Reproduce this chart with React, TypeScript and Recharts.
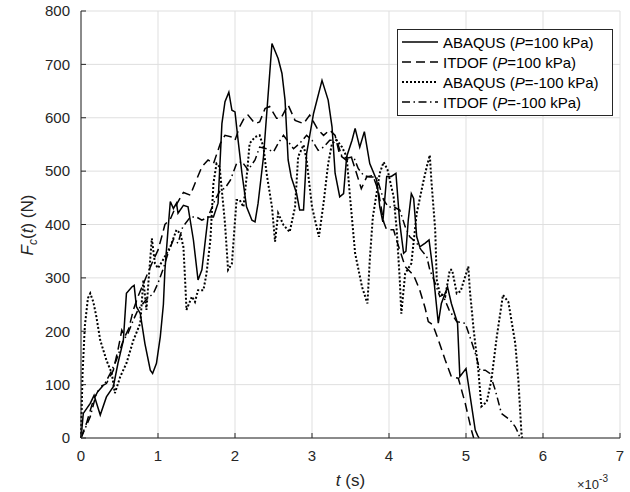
import { LineChart, Line, XAxis, YAxis, CartesianGrid, Legend } from 'recharts';

// t in units of 1e-3 s, F in N
const abaqusPos: [number, number][] = [
  [0, 0], [0.03, 46], [0.12, 65], [0.17, 80], [0.25, 43], [0.33, 77], [0.42, 96], [0.48, 140],
  [0.55, 183], [0.59, 271], [0.66, 283], [0.69, 286], [0.72, 246], [0.77, 233], [0.83, 177],
  [0.9, 127], [0.93, 121], [0.98, 140], [1.03, 190], [1.07, 250], [1.09, 315], [1.13, 390],
  [1.16, 443], [1.2, 430], [1.24, 440], [1.26, 421], [1.33, 436], [1.39, 433], [1.46, 371],
  [1.52, 296], [1.57, 315], [1.65, 414], [1.72, 414], [1.78, 440], [1.83, 589], [1.87, 630],
  [1.92, 648], [1.96, 614], [2.0, 611], [2.04, 558], [2.09, 496], [2.15, 433], [2.22, 408],
  [2.26, 405], [2.3, 440], [2.37, 527], [2.48, 739], [2.56, 711], [2.61, 683], [2.65, 633],
  [2.69, 521], [2.73, 489], [2.8, 458], [2.84, 427], [2.89, 427], [2.93, 533], [3.02, 608],
  [3.13, 670], [3.21, 633], [3.26, 583], [3.3, 496], [3.36, 452], [3.41, 458], [3.45, 527],
  [3.52, 558], [3.56, 580], [3.62, 545], [3.68, 574], [3.75, 514], [3.84, 483], [3.88, 433],
  [3.92, 405], [3.97, 490], [4.03, 490], [4.09, 496], [4.14, 402], [4.19, 346], [4.22, 350],
  [4.25, 408], [4.29, 458], [4.32, 449], [4.36, 377], [4.4, 358], [4.47, 365], [4.52, 371],
  [4.57, 315], [4.64, 215], [4.68, 252], [4.76, 283], [4.81, 252], [4.89, 215], [4.92, 115],
  [5.0, 130], [5.12, 15], [5.15, 5], [5.17, 0],
];

const itdofPos: [number, number][] = [
  [0, 0], [0.07, 27], [0.16, 71], [0.25, 96], [0.33, 102], [0.42, 127], [0.48, 165], [0.53, 202],
  [0.57, 190], [0.62, 205], [0.68, 240], [0.74, 265], [0.83, 296], [0.92, 327], [1.0, 352],
  [1.05, 378], [1.09, 400], [1.16, 410], [1.25, 440], [1.33, 460], [1.42, 455], [1.48, 477],
  [1.57, 508], [1.65, 521], [1.72, 514], [1.81, 552], [1.87, 567], [1.96, 564], [2.0, 558],
  [2.06, 583], [2.13, 602], [2.17, 605], [2.26, 589], [2.32, 592], [2.39, 617], [2.45, 621],
  [2.54, 599], [2.6, 600], [2.69, 624], [2.78, 595], [2.89, 589], [2.97, 605], [3.08, 577],
  [3.15, 567], [3.23, 577], [3.3, 567], [3.36, 530], [3.45, 520], [3.51, 527], [3.58, 495],
  [3.64, 467], [3.71, 489], [3.79, 492], [3.86, 464], [3.93, 405], [3.97, 390], [4.06, 390],
  [4.1, 370], [4.21, 321], [4.32, 305], [4.4, 277], [4.47, 243], [4.51, 218], [4.57, 212],
  [4.65, 180], [4.73, 146], [4.81, 115], [4.9, 112], [4.99, 65], [5.07, 15], [5.1, 0],
];

const abaqusNeg: [number, number][] = [
  [0, 0], [0.02, 120], [0.05, 210], [0.09, 262], [0.12, 271], [0.16, 255], [0.2, 227],
  [0.25, 183], [0.33, 146], [0.4, 121], [0.44, 84], [0.51, 115], [0.59, 140], [0.68, 183],
  [0.77, 215], [0.81, 296], [0.85, 240], [0.88, 300], [0.92, 374], [0.96, 327], [1.0, 318],
  [1.07, 335], [1.16, 358], [1.24, 390], [1.29, 383], [1.33, 358], [1.35, 302], [1.37, 240],
  [1.44, 265], [1.48, 255], [1.52, 277], [1.59, 277], [1.63, 308], [1.68, 371], [1.72, 477],
  [1.76, 514], [1.8, 508], [1.87, 402], [1.91, 315], [1.96, 327], [2.02, 446], [2.06, 446],
  [2.11, 433], [2.16, 502], [2.19, 552], [2.26, 564], [2.32, 567], [2.37, 545], [2.41, 496],
  [2.48, 433], [2.52, 368], [2.56, 421], [2.63, 399], [2.71, 386], [2.78, 433], [2.82, 527],
  [2.89, 549], [2.93, 521], [3.0, 433], [3.09, 377], [3.15, 440], [3.21, 514], [3.26, 552],
  [3.32, 558], [3.39, 545], [3.45, 527], [3.49, 458], [3.56, 346], [3.65, 283], [3.72, 252],
  [3.75, 333], [3.79, 414], [3.88, 496], [3.93, 517], [3.98, 503], [4.06, 452], [4.1, 390],
  [4.14, 296], [4.16, 233], [4.21, 308], [4.29, 327], [4.36, 421], [4.45, 483], [4.49, 508],
  [4.53, 530], [4.55, 483], [4.6, 390], [4.62, 296], [4.66, 271], [4.73, 265], [4.79, 315],
  [4.82, 315], [4.88, 271], [4.93, 275], [5.03, 321], [5.05, 277], [5.1, 202], [5.16, 127],
  [5.2, 59], [5.27, 68], [5.33, 109], [5.4, 190], [5.48, 268], [5.55, 255], [5.64, 177],
  [5.68, 109], [5.72, 9], [5.73, 0],
];

const itdofNeg: [number, number][] = [
  [0, 0], [0.12, 40], [0.2, 84], [0.31, 102], [0.38, 121], [0.46, 146], [0.55, 183], [0.61, 196],
  [0.68, 221], [0.74, 240], [0.84, 258], [0.94, 271], [1.0, 290], [1.07, 318], [1.13, 346],
  [1.2, 372], [1.26, 365], [1.32, 395], [1.42, 414], [1.5, 414], [1.57, 408], [1.65, 414],
  [1.74, 446], [1.81, 464], [1.87, 468], [1.94, 483], [2.02, 514], [2.09, 518], [2.17, 502],
  [2.26, 521], [2.32, 545], [2.41, 542], [2.5, 536], [2.56, 552], [2.63, 567], [2.76, 542],
  [2.84, 552], [2.93, 567], [3.0, 558], [3.08, 539], [3.15, 545], [3.23, 558], [3.32, 558],
  [3.39, 527], [3.45, 524], [3.54, 527], [3.6, 505], [3.67, 492], [3.75, 489], [3.84, 489],
  [3.93, 446], [3.99, 433], [4.06, 433], [4.14, 427], [4.21, 396], [4.27, 377], [4.36, 365],
  [4.42, 352], [4.49, 340], [4.53, 315], [4.6, 290], [4.66, 265], [4.7, 268], [4.78, 240],
  [4.88, 218], [4.99, 215], [5.05, 190], [5.12, 159], [5.18, 127], [5.25, 127], [5.31, 121],
  [5.38, 90], [5.46, 46], [5.57, 34], [5.64, 21], [5.68, 9], [5.7, 0],
];

const xTicks = [0, 1, 2, 3, 4, 5, 6, 7];
const yTicks = [0, 100, 200, 300, 400, 500, 600, 700, 800];

const seriesNames = ['ABAQUS', 'ITDOF', 'ABAQUS', 'ITDOF'];
const seriesP = ['100', '100', '-100', '-100'];
const dashes = ['', '9 5', '2 2', '8 3.5 1.5 3.5'];
const widths = [1.5, 1.5, 2, 1.5];

const toRows = (pts: [number, number][]) => pts.map(([t, f]) => ({ t, f }));
const allSeries = [abaqusPos, itdofPos, abaqusNeg, itdofNeg].map(toRows);

const FONT = '"Liberation Sans", Arial, sans-serif';
const AX = '#262626';

function XLabel(props: any) {
  const vb = props.viewBox;
  const cx = vb.x + vb.width / 2;
  return (
    <g fontFamily={FONT} fill={AX}>
      <text x={cx} y={vb.y + 48} textAnchor="middle" fontSize={17}>
        <tspan fontStyle="italic">t</tspan> (s)
      </text>
      <text x={vb.x + vb.width - 43} y={vb.y + 51} fontSize={13}>
        ×10<tspan dy={-7} fontSize={10}>-3</tspan>
      </text>
    </g>
  );
}

function YLabel() {
  const x = 33;
  const y = 225;
  return (
    <text x={x} y={y} transform={`rotate(-90, ${x}, ${y})`} textAnchor="middle" fontFamily={FONT} fontSize={17} fill={AX}>
      <tspan fontStyle="italic">F</tspan>
      <tspan dy={4} fontSize={12} fontStyle="italic">c</tspan>
      <tspan dy={-4}>(</tspan>
      <tspan fontStyle="italic">t</tspan>
      <tspan>) (N)</tspan>
    </text>
  );
}

function LegendBox() {
  return (
    <div style={{ border: `1px solid ${AX}`, background: '#fff', padding: '2px 0 3px 4px', width: 210, fontFamily: FONT, fontSize: 15, color: '#000' }}>
      {seriesNames.map((name, i) => (
        <div key={i} style={{ height: 20, display: 'flex', alignItems: 'center' }}>
          <svg width={36} height={6} style={{ marginRight: 5 }}>
            <line x1={0} y1={3} x2={36} y2={3} stroke="#000" strokeWidth={widths[i]} strokeDasharray={dashes[i] || undefined} />
          </svg>
          <span>
            {name} (<i>P</i>={seriesP[i]} kPa)
          </span>
        </div>
      ))}
    </div>
  );
}

export default function App() {
  return (
    <div style={{ position: 'absolute', left: 0, top: 0, width: 630, height: 492, background: '#fff' }}>
      <LineChart width={630} height={492} margin={{ top: 11, right: 10, bottom: 0, left: 0 }}>
        <CartesianGrid stroke="#dfdfdf" />
        <XAxis
          type="number" dataKey="t" domain={[0, 7]} ticks={xTicks} interval={0}
          height={54} stroke={AX} tickSize={-5} tickMargin={17}
          tick={{ fill: AX, fontSize: 15, fontFamily: FONT }}
          label={<XLabel />}
        />
        <XAxis
          xAxisId="top" orientation="top" type="number" dataKey="t" domain={[0, 7]} ticks={xTicks}
          interval={0} height={0} stroke={AX} tickSize={-5} tick={false}
        />
        <YAxis
          type="number" domain={[0, 800]} ticks={yTicks} interval={0} width={81}
          stroke={AX} tickSize={-5} tickMargin={16}
          tick={{ fill: AX, fontSize: 15, fontFamily: FONT }}
          label={<YLabel />}
        />
        <YAxis
          yAxisId="right" orientation="right" type="number" domain={[0, 800]} ticks={yTicks}
          interval={0} width={0} stroke={AX} tickSize={-5} tick={false}
        />
        <Legend
          layout="vertical" align="center" verticalAlign="middle"
          wrapperStyle={{ left: 397, top: 29, width: 215 }}
          content={<LegendBox />}
        />
        {allSeries.map((rows, i) => (
          <Line
            key={i}
            data={rows}
            dataKey="f"
            name={`${seriesNames[i]} (P=${seriesP[i]} kPa)`}
            type="linear"
            stroke="#000"
            strokeWidth={widths[i]}
            strokeDasharray={dashes[i] || undefined}
            dot={false}
            activeDot={false}
            isAnimationActive={false}
          />
        ))}
      </LineChart>
    </div>
  );
}
